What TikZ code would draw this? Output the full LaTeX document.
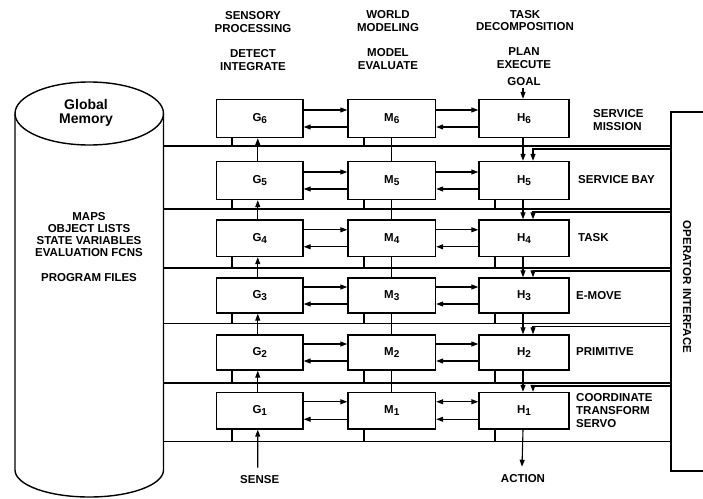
\documentclass[tikz,border=0pt]{standalone}
\usepackage{fontspec}
\setmainfont{Liberation Sans}
\usetikzlibrary{arrows.meta,calc}
\newcommand\lbl{\fontsize{11.5}{12.8}\selectfont\bfseries}
\newcommand\sbx[2]{#1\raisebox{-2.4pt}{\fontsize{10}{10}\selectfont #2}}
\begin{document}
\begin{tikzpicture}[x=1pt,y=-1pt,
  con/.style={line width=1.1pt},
  heavy/.style={line width=1.4pt},
  tip/.tip={Triangle[length=7pt,width=5pt]},
  box/.style={draw,line width=1.4pt,inner sep=0pt,font=\lbl},
  txt/.style={inner sep=0pt,font=\lbl,align=center},
  ltxt/.style={inner sep=0pt,font=\lbl,align=left,anchor=west}]
\useasboundingbox (0,0) rectangle (703,498);

% cylinder (global memory)
\draw[heavy] (15,113.5) -- (15,470) arc[start angle=180,end angle=360,x radius=74.25pt,y radius=27pt] -- (163.5,113.5);
\draw[heavy] (89.25,113.5) ellipse[x radius=74.25pt,y radius=31.5pt];
\node[txt,font=\fontsize{14}{14}\selectfont\bfseries] (gm) at (86,113) {Global\\Memory};
\node[txt,font=\fontsize{11.5}{12.3}\selectfont\bfseries] (maps) at (89,234.5) {MAPS\\OBJECT LISTS\\STATE VARIABLES\\EVALUATION FCNS};
\node[txt] (prog) at (89,278) {PROGRAM FILES};

% operator interface
\draw[heavy] (712,112) -- (671,112) -- (671,471) -- (712,471);
\node[txt,rotate=-90] (op) at (687,287) {OPERATOR INTERFACE};

% column headers
\node[txt] (sens) at (253,22.2) {SENSORY\\PROCESSING};
\node[txt] (det) at (253,60.3) {DETECT\\INTEGRATE};
\node[txt] (world) at (388,21.3) {WORLD\\MODELING};
\node[txt] (model) at (388,59.3) {MODEL\\EVALUATE};
\node[txt] (task) at (525,20.5) {TASK\\DECOMPOSITION};
\node[txt] (plan) at (524,58.3) {PLAN\\EXECUTE};
\node[txt] (goal) at (524,82) {GOAL};
\node[txt] (sense) at (259.7,480) {SENSE};
\node[txt] (action) at (523,479) {ACTION};

% row labels
\node[ltxt] (l6) at (593,120) {SERVICE\\MISSION};
\node[ltxt] (l5) at (578,179.5) {SERVICE BAY};
\node[ltxt] (l4) at (578,238) {TASK};
\node[ltxt] (l3) at (576,296) {E-MOVE};
\node[ltxt] (l2) at (576,351.3) {PRIMITIVE};
\node[ltxt] (l1) at (576,410.5) {COORDINATE\\TRANSFORM\\SERVO};

% stub x positions
\coordinate (gx) at (232,0);
\coordinate (mx) at (364,0);
\coordinate (hx) at (495,0);

% boxes and bus lines
\foreach \n/\c/\h/\b in {6/118.5/38/146,5/180.5/38/209,4/238.25/36.5/268,3/295.5/35/323.5,2/352.5/35/383,1/410.75/36.5/441.5}{
  \node[box,minimum width=86.5pt,minimum height=\h pt] (G\n) at (259.75,\c) {\sbx{G}{\n}};
  \node[box,minimum width=87.5pt,minimum height=\h pt] (M\n) at (391.75,\c) {\sbx{M}{\n}};
  \node[box,minimum width=90pt,minimum height=\h pt] (H\n) at (524,\c) {\sbx{H}{\n}};
  \coordinate (bl\n) at (163.5,\b);
  \coordinate (br\n) at (671,\b);
  \draw[con] (bl\n) -- (br\n);
  \draw[con] (G\n.south -| gx) -- (gx |- bl\n);
  \draw[con] (M\n.south -| mx) -- (mx |- bl\n);
}
\foreach \n in {1,...,5}{
  \draw[con] (H\n.south -| hx) -- (hx |- bl\n);
}

% horizontal arrows
\foreach \n in {2,...,6}{
  \draw[con,-tip] ([yshift=8.5pt]G\n.east) -- ([yshift=8.5pt]M\n.west);
  \draw[con,tip-] ([yshift=-8.5pt]G\n.east) -- ([yshift=-8.5pt]M\n.west);
  \draw[con,-tip] ([yshift=8.5pt]M\n.east) -- ([yshift=8.5pt]H\n.west);
  \draw[con,tip-] ([yshift=-8.5pt]M\n.east) -- ([yshift=-8.5pt]H\n.west);
}
\draw[con,-tip] ([yshift=9pt]G1.east) -- ([yshift=9pt]M1.west);
\draw[con,tip-] ([yshift=-8.5pt]G1.east) -- ([yshift=-8.5pt]M1.west);
\draw[con,tip-tip] ([yshift=9pt]M1.east) -- ([yshift=9pt]H1.west);
\draw[con,tip-] ([yshift=-8.5pt]M1.east) -- ([yshift=-8.5pt]H1.west);

% vertical connections
\foreach \n/\m in {1/2,2/3,3/4,4/5,5/6}{
  \draw[con,-tip] ([xshift=-2pt]G\n.north) -- ([xshift=-2pt]G\m.south);
  \draw[con] (M\n.north) -- (M\m.south);
  \draw[con,-tip] ([xshift=-1pt]H\m.south) -- ([xshift=-1pt]H\n.north);
}

% operator interface commands
\foreach \n/\m in {6/5,5/4,4/3,3/2,2/1}{
  \draw[con,-tip] ([yshift=-3pt]br\n) -| ([xshift=9pt]H\m.north);
}

% inputs and outputs
\draw[con,-tip] ([xshift=-2pt]sense.north) ++(0,-8) -- ([xshift=-2pt]G1.south);
\draw[con,-tip] ([xshift=-1pt]H1.south) -- ([xshift=-1pt,yshift=8pt]action.north);
\draw[con,-tip] ([xshift=-1pt,yshift=-1.5pt]goal.south) -- ([xshift=-1pt]H6.north);
\end{tikzpicture}
\end{document}
